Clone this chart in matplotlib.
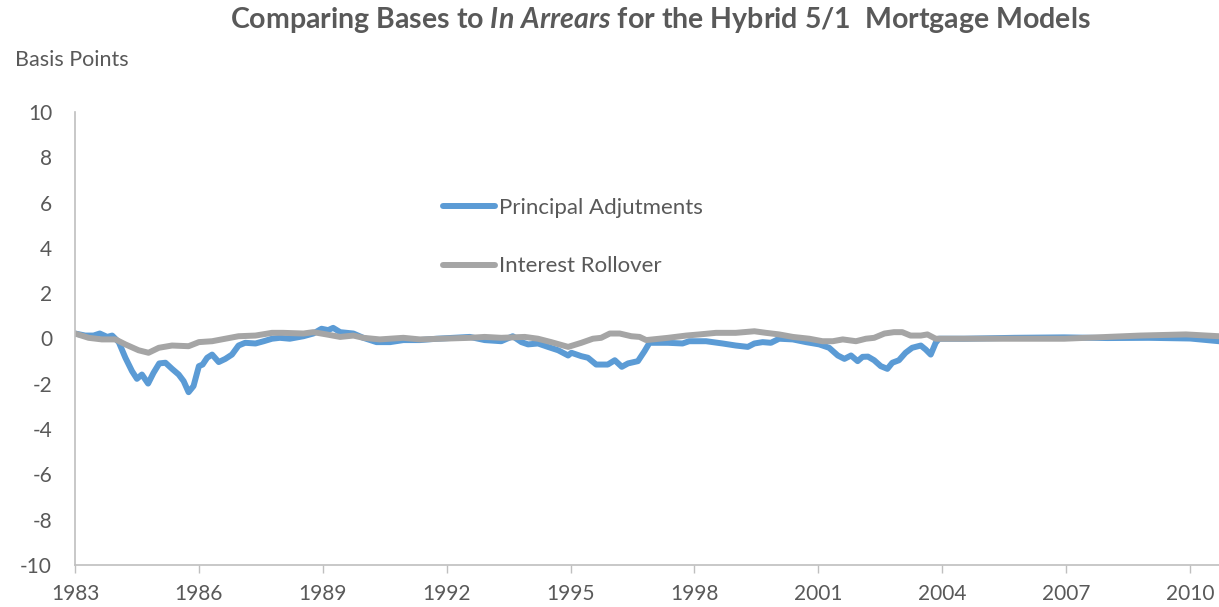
import matplotlib
matplotlib.use("Agg")
import matplotlib.pyplot as plt

plt.rcParams["font.family"] = ["Lato", "DejaVu Sans"]
plt.rcParams["mathtext.fontset"] = "custom"
plt.rcParams["mathtext.it"] = "Lato:italic:bold"
plt.rcParams["mathtext.rm"] = "Lato:bold"

TEXT = "#595959"
AXIS = "#BFBFBF"
BLUE = "#5B9BD5"
GRAY = "#A5A5A5"

# Principal Adjutments (basis points)
years_pa = [1983.0, 1983.25, 1983.45, 1983.6, 1983.78, 1983.9, 1984.06, 1984.22, 1984.38, 1984.5,
            1984.62, 1984.77, 1984.9, 1985.04, 1985.19, 1985.35, 1985.51, 1985.63, 1985.75, 1985.87,
            1986.0, 1986.09, 1986.2, 1986.32, 1986.48, 1986.64, 1986.8, 1986.96, 1987.12, 1987.37,
            1987.57, 1987.77, 1987.96, 1988.2, 1988.53, 1988.77, 1988.97, 1989.13, 1989.25, 1989.42,
            1989.74, 1989.98, 1990.3, 1990.63, 1990.95, 1991.35, 1991.76, 1992.56, 1992.92, 1993.32,
            1993.6, 1993.81, 1993.97, 1994.21, 1994.45, 1994.7, 1994.94, 1995.02, 1995.26, 1995.42,
            1995.62, 1995.9, 1996.07, 1996.24, 1996.39, 1996.63, 1996.79, 1996.91, 1997.36, 1997.71,
            1997.87, 1998.28, 1998.68, 1999.0, 1999.29, 1999.45, 1999.65, 1999.85, 2000.05, 2000.38,
            2000.7, 2001.02, 2001.26, 2001.47, 2001.63, 2001.79, 2001.95, 2002.07, 2002.2, 2002.35,
            2002.51, 2002.67, 2002.79, 2002.95, 2003.11, 2003.27, 2003.48, 2003.6, 2003.72, 2003.84,
            2003.92, 2004.53, 2005.74, 2006.95, 2008.0, 2009.0, 2010.0, 2010.7]
principal = [0.22, 0.13, 0.13, 0.22, 0.07, 0.13, -0.16, -0.85, -1.44, -1.78,
             -1.59, -1.99, -1.52, -1.10, -1.07, -1.34, -1.59, -1.88, -2.37, -2.10,
             -1.22, -1.15, -0.85, -0.71, -1.04, -0.90, -0.71, -0.31, -0.19, -0.22,
             -0.12, -0.01, 0.03, -0.01, 0.10, 0.22, 0.43, 0.37, 0.47, 0.28,
             0.22, 0.03, -0.16, -0.16, -0.07, -0.07, -0.01, 0.07, -0.07, -0.12,
             0.10, -0.16, -0.26, -0.22, -0.37, -0.52, -0.75, -0.63, -0.78, -0.85,
             -1.15, -1.15, -0.96, -1.25, -1.10, -1.00, -0.56, -0.19, -0.19, -0.22,
             -0.12, -0.12, -0.22, -0.31, -0.37, -0.22, -0.16, -0.19, -0.01, -0.04,
             -0.16, -0.26, -0.41, -0.75, -0.90, -0.75, -1.00, -0.81, -0.80, -0.96,
             -1.22, -1.34, -1.07, -0.96, -0.63, -0.41, -0.31, -0.49, -0.71, -0.19,
             -0.01, -0.01, 0.03, 0.05, 0.02, 0.03, 0.00, -0.12]

# Interest Rollover (basis points)
years_ir = [1983.0, 1983.33, 1983.65, 1983.98, 1984.22, 1984.54, 1984.78, 1985.03, 1985.35, 1985.75,
            1986.0, 1986.32, 1986.64, 1986.96, 1987.37, 1987.77, 1988.04, 1988.53, 1988.77, 1989.09,
            1989.42, 1989.74, 1989.98, 1990.38, 1990.95, 1991.35, 1992.56, 1992.92, 1993.32, 1993.89,
            1994.21, 1994.53, 1994.94, 1995.26, 1995.54, 1995.74, 1995.95, 1996.19, 1996.47, 1996.67,
            1996.83, 1997.36, 1997.8, 1998.12, 1998.52, 1999.0, 1999.45, 1999.73, 2000.05, 2000.38,
            2000.78, 2001.1, 2001.35, 2001.59, 2001.91, 2002.15, 2002.35, 2002.6, 2002.83, 2003.03,
            2003.23, 2003.48, 2003.64, 2003.84, 2004.53, 2006.95, 2008.8, 2009.9, 2010.7]
rollover = [0.22, 0.03, -0.04, -0.04, -0.26, -0.52, -0.63, -0.41, -0.31, -0.34,
            -0.16, -0.12, -0.01, 0.10, 0.13, 0.25, 0.25, 0.22, 0.28, 0.18,
            0.07, 0.13, 0.03, -0.04, 0.03, -0.04, 0.03, 0.07, 0.03, 0.07,
            -0.01, -0.16, -0.37, -0.19, -0.01, 0.03, 0.22, 0.22, 0.10, 0.07,
            -0.07, 0.03, 0.13, 0.18, 0.25, 0.25, 0.32, 0.25, 0.18, 0.07,
            -0.01, -0.12, -0.12, -0.04, -0.12, -0.01, 0.03, 0.22, 0.28, 0.28,
            0.13, 0.13, 0.18, -0.01, -0.01, -0.01, 0.13, 0.18, 0.10]

x_ticks = list(range(1983, 2011, 3))
y_ticks = list(range(-10, 11, 2))

fig = plt.figure(figsize=(12.19, 6.07), dpi=100)
ax = fig.add_axes([75 / 1219, 42 / 607, 1 - 75 / 1219, 453 / 607])

ax.plot(years_pa, principal, color=BLUE, lw=4.3, solid_joinstyle="round",
        solid_capstyle="round", label="Principal Adjutments")
ax.plot(years_ir, rollover, color=GRAY, lw=4.3, solid_joinstyle="round",
        solid_capstyle="round", label="Interest Rollover")

ax.set_xlim(1983, 2010.7)
ax.set_ylim(-10, 10)
ax.set_xticks(x_ticks)
ax.set_yticks(y_ticks)
ax.set_yticklabels([str(v) for v in y_ticks])

for s in ["top", "right"]:
    ax.spines[s].set_visible(False)
for s in ["left", "bottom"]:
    ax.spines[s].set_color(AXIS)
    ax.spines[s].set_linewidth(1.2)

ax.tick_params(axis="x", direction="out", length=6, color=AXIS, width=1,
               labelsize=15, labelcolor=TEXT, pad=8)
ax.tick_params(axis="y", length=0, labelsize=15, labelcolor=TEXT, pad=16.5)

fig.text(660 / 1219, 1 - 20 / 607,
         r"Comparing Bases to $\it{In\ Arrears}$ for the Hybrid 5/1  Mortgage Models",
         ha="center", va="center", fontsize=20.5, fontweight="bold", color=TEXT)
fig.text(15 / 1219, 1 - 60 / 607, "Basis Points", ha="left", va="center",
         fontsize=15.5, color=TEXT)

ax.legend(loc="upper left", bbox_to_anchor=(443 / 1219, 1 - 198 / 607),
          bbox_transform=fig.transFigure, frameon=False, fontsize=16,
          labelcolor=TEXT, handlelength=2.34, handletextpad=0.18,
          labelspacing=1.73, borderpad=0, borderaxespad=0)

fig.savefig("out.png", dpi=100)
